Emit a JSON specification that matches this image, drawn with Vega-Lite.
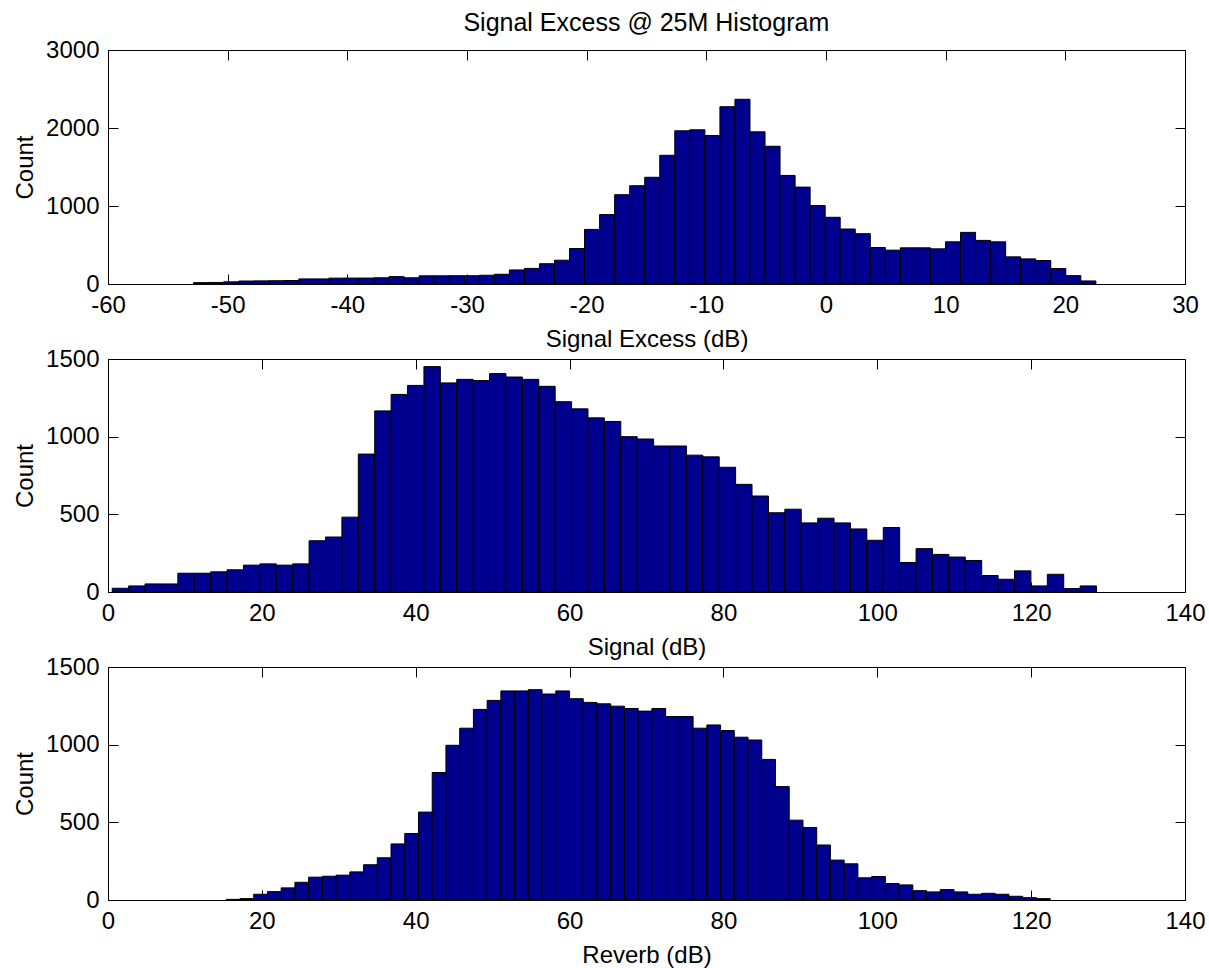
{
  "$schema": "https://vega.github.io/schema/vega-lite/v6.json",
  "padding": {"left": 13, "top": 10, "right": 5, "bottom": 5},
  "background": "white",
  "title": {"text": "Signal Excess @ 25M Histogram", "fontSize": 25, "fontWeight": "normal", "font": "Liberation Sans", "color": "#000000", "anchor": "middle", "offset": 2, "dx": 37},
  "datasets": {
    "excess": [
      {"bin_start": -52.85, "bin_end": -51.593, "count": 18},
      {"bin_start": -51.593, "bin_end": -50.337, "count": 20},
      {"bin_start": -50.337, "bin_end": -49.08, "count": 28},
      {"bin_start": -49.08, "bin_end": -47.823, "count": 38},
      {"bin_start": -47.823, "bin_end": -46.567, "count": 40},
      {"bin_start": -46.567, "bin_end": -45.31, "count": 42},
      {"bin_start": -45.31, "bin_end": -44.053, "count": 45},
      {"bin_start": -44.053, "bin_end": -42.796, "count": 65},
      {"bin_start": -42.796, "bin_end": -41.54, "count": 65},
      {"bin_start": -41.54, "bin_end": -40.283, "count": 75},
      {"bin_start": -40.283, "bin_end": -39.026, "count": 76},
      {"bin_start": -39.026, "bin_end": -37.77, "count": 76},
      {"bin_start": -37.77, "bin_end": -36.513, "count": 80},
      {"bin_start": -36.513, "bin_end": -35.256, "count": 95},
      {"bin_start": -35.256, "bin_end": -34.0, "count": 80},
      {"bin_start": -34.0, "bin_end": -32.743, "count": 105},
      {"bin_start": -32.743, "bin_end": -31.486, "count": 105},
      {"bin_start": -31.486, "bin_end": -30.229, "count": 106},
      {"bin_start": -30.229, "bin_end": -28.973, "count": 106},
      {"bin_start": -28.973, "bin_end": -27.716, "count": 112},
      {"bin_start": -27.716, "bin_end": -26.459, "count": 125},
      {"bin_start": -26.459, "bin_end": -25.203, "count": 180},
      {"bin_start": -25.203, "bin_end": -23.946, "count": 200},
      {"bin_start": -23.946, "bin_end": -22.689, "count": 260},
      {"bin_start": -22.689, "bin_end": -21.433, "count": 305},
      {"bin_start": -21.433, "bin_end": -20.176, "count": 455},
      {"bin_start": -20.176, "bin_end": -18.919, "count": 700},
      {"bin_start": -18.919, "bin_end": -17.662, "count": 890},
      {"bin_start": -17.662, "bin_end": -16.406, "count": 1145},
      {"bin_start": -16.406, "bin_end": -15.149, "count": 1260},
      {"bin_start": -15.149, "bin_end": -13.892, "count": 1368},
      {"bin_start": -13.892, "bin_end": -12.636, "count": 1650},
      {"bin_start": -12.636, "bin_end": -11.379, "count": 1964},
      {"bin_start": -11.379, "bin_end": -10.122, "count": 1977},
      {"bin_start": -10.122, "bin_end": -8.865, "count": 1904},
      {"bin_start": -8.865, "bin_end": -7.609, "count": 2273},
      {"bin_start": -7.609, "bin_end": -6.352, "count": 2368},
      {"bin_start": -6.352, "bin_end": -5.095, "count": 1951},
      {"bin_start": -5.095, "bin_end": -3.839, "count": 1766},
      {"bin_start": -3.839, "bin_end": -2.582, "count": 1392},
      {"bin_start": -2.582, "bin_end": -1.325, "count": 1242},
      {"bin_start": -1.325, "bin_end": -0.069, "count": 1006},
      {"bin_start": -0.069, "bin_end": 1.188, "count": 855},
      {"bin_start": 1.188, "bin_end": 2.445, "count": 705},
      {"bin_start": 2.445, "bin_end": 3.702, "count": 645},
      {"bin_start": 3.702, "bin_end": 4.958, "count": 468},
      {"bin_start": 4.958, "bin_end": 6.215, "count": 434},
      {"bin_start": 6.215, "bin_end": 7.472, "count": 464},
      {"bin_start": 7.472, "bin_end": 8.728, "count": 464},
      {"bin_start": 8.728, "bin_end": 9.985, "count": 451},
      {"bin_start": 9.985, "bin_end": 11.242, "count": 541},
      {"bin_start": 11.242, "bin_end": 12.498, "count": 662},
      {"bin_start": 12.498, "bin_end": 13.755, "count": 559},
      {"bin_start": 13.755, "bin_end": 15.012, "count": 541},
      {"bin_start": 15.012, "bin_end": 16.269, "count": 348},
      {"bin_start": 16.269, "bin_end": 17.525, "count": 322},
      {"bin_start": 17.525, "bin_end": 18.782, "count": 301},
      {"bin_start": 18.782, "bin_end": 20.039, "count": 198},
      {"bin_start": 20.039, "bin_end": 21.295, "count": 107},
      {"bin_start": 21.295, "bin_end": 22.552, "count": 39}
    ],
    "signal": [
      {"bin_start": 0.55, "bin_end": 2.683, "count": 24},
      {"bin_start": 2.683, "bin_end": 4.815, "count": 39},
      {"bin_start": 4.815, "bin_end": 6.948, "count": 52},
      {"bin_start": 6.948, "bin_end": 9.08, "count": 52},
      {"bin_start": 9.08, "bin_end": 11.213, "count": 121},
      {"bin_start": 11.213, "bin_end": 13.345, "count": 121},
      {"bin_start": 13.345, "bin_end": 15.478, "count": 130},
      {"bin_start": 15.478, "bin_end": 17.61, "count": 143},
      {"bin_start": 17.61, "bin_end": 19.743, "count": 173},
      {"bin_start": 19.743, "bin_end": 21.875, "count": 181},
      {"bin_start": 21.875, "bin_end": 24.008, "count": 173},
      {"bin_start": 24.008, "bin_end": 26.14, "count": 181},
      {"bin_start": 26.14, "bin_end": 28.273, "count": 330},
      {"bin_start": 28.273, "bin_end": 30.405, "count": 354},
      {"bin_start": 30.405, "bin_end": 32.538, "count": 482},
      {"bin_start": 32.538, "bin_end": 34.67, "count": 888},
      {"bin_start": 34.67, "bin_end": 36.803, "count": 1166},
      {"bin_start": 36.803, "bin_end": 38.935, "count": 1272},
      {"bin_start": 38.935, "bin_end": 41.068, "count": 1330},
      {"bin_start": 41.068, "bin_end": 43.2, "count": 1451},
      {"bin_start": 43.2, "bin_end": 45.333, "count": 1346},
      {"bin_start": 45.333, "bin_end": 47.465, "count": 1369},
      {"bin_start": 47.465, "bin_end": 49.598, "count": 1361},
      {"bin_start": 49.598, "bin_end": 51.73, "count": 1406},
      {"bin_start": 51.73, "bin_end": 53.863, "count": 1384},
      {"bin_start": 53.863, "bin_end": 55.995, "count": 1369},
      {"bin_start": 55.995, "bin_end": 58.128, "count": 1324},
      {"bin_start": 58.128, "bin_end": 60.26, "count": 1225},
      {"bin_start": 60.26, "bin_end": 62.393, "count": 1179},
      {"bin_start": 62.393, "bin_end": 64.525, "count": 1121},
      {"bin_start": 64.525, "bin_end": 66.658, "count": 1098},
      {"bin_start": 66.658, "bin_end": 68.79, "count": 1000},
      {"bin_start": 68.79, "bin_end": 70.923, "count": 985},
      {"bin_start": 70.923, "bin_end": 73.055, "count": 940},
      {"bin_start": 73.055, "bin_end": 75.188, "count": 940},
      {"bin_start": 75.188, "bin_end": 77.32, "count": 881},
      {"bin_start": 77.32, "bin_end": 79.453, "count": 870},
      {"bin_start": 79.453, "bin_end": 81.585, "count": 803},
      {"bin_start": 81.585, "bin_end": 83.718, "count": 693},
      {"bin_start": 83.718, "bin_end": 85.85, "count": 618},
      {"bin_start": 85.85, "bin_end": 87.983, "count": 510},
      {"bin_start": 87.983, "bin_end": 90.115, "count": 533},
      {"bin_start": 90.115, "bin_end": 92.248, "count": 445},
      {"bin_start": 92.248, "bin_end": 94.38, "count": 475},
      {"bin_start": 94.38, "bin_end": 96.513, "count": 445},
      {"bin_start": 96.513, "bin_end": 98.645, "count": 406},
      {"bin_start": 98.645, "bin_end": 100.778, "count": 333},
      {"bin_start": 100.778, "bin_end": 102.91, "count": 415},
      {"bin_start": 102.91, "bin_end": 105.043, "count": 190},
      {"bin_start": 105.043, "bin_end": 107.175, "count": 279},
      {"bin_start": 107.175, "bin_end": 109.308, "count": 242},
      {"bin_start": 109.308, "bin_end": 111.44, "count": 225},
      {"bin_start": 111.44, "bin_end": 113.573, "count": 203},
      {"bin_start": 113.573, "bin_end": 115.705, "count": 106},
      {"bin_start": 115.705, "bin_end": 117.838, "count": 82},
      {"bin_start": 117.838, "bin_end": 119.97, "count": 136},
      {"bin_start": 119.97, "bin_end": 122.103, "count": 39},
      {"bin_start": 122.103, "bin_end": 124.235, "count": 114},
      {"bin_start": 124.235, "bin_end": 126.368, "count": 22},
      {"bin_start": 126.368, "bin_end": 128.5, "count": 39}
    ],
    "reverb": [
      {"bin_start": 15.37, "bin_end": 17.155, "count": 4},
      {"bin_start": 17.155, "bin_end": 18.94, "count": 9},
      {"bin_start": 18.94, "bin_end": 20.725, "count": 37},
      {"bin_start": 20.725, "bin_end": 22.51, "count": 54},
      {"bin_start": 22.51, "bin_end": 24.295, "count": 78},
      {"bin_start": 24.295, "bin_end": 26.08, "count": 114},
      {"bin_start": 26.08, "bin_end": 27.865, "count": 147},
      {"bin_start": 27.865, "bin_end": 29.65, "count": 153},
      {"bin_start": 29.65, "bin_end": 31.435, "count": 160},
      {"bin_start": 31.435, "bin_end": 33.22, "count": 181},
      {"bin_start": 33.22, "bin_end": 35.005, "count": 227},
      {"bin_start": 35.005, "bin_end": 36.79, "count": 272},
      {"bin_start": 36.79, "bin_end": 38.575, "count": 361},
      {"bin_start": 38.575, "bin_end": 40.36, "count": 428},
      {"bin_start": 40.36, "bin_end": 42.145, "count": 566},
      {"bin_start": 42.145, "bin_end": 43.93, "count": 821},
      {"bin_start": 43.93, "bin_end": 45.715, "count": 996},
      {"bin_start": 45.715, "bin_end": 47.5, "count": 1106},
      {"bin_start": 47.5, "bin_end": 49.285, "count": 1227},
      {"bin_start": 49.285, "bin_end": 51.07, "count": 1285},
      {"bin_start": 51.07, "bin_end": 52.855, "count": 1346},
      {"bin_start": 52.855, "bin_end": 54.64, "count": 1346},
      {"bin_start": 54.64, "bin_end": 56.425, "count": 1354},
      {"bin_start": 56.425, "bin_end": 58.21, "count": 1326},
      {"bin_start": 58.21, "bin_end": 59.995, "count": 1346},
      {"bin_start": 59.995, "bin_end": 61.78, "count": 1296},
      {"bin_start": 61.78, "bin_end": 63.565, "count": 1272},
      {"bin_start": 63.565, "bin_end": 65.35, "count": 1263},
      {"bin_start": 65.35, "bin_end": 67.135, "count": 1248},
      {"bin_start": 67.135, "bin_end": 68.92, "count": 1233},
      {"bin_start": 68.92, "bin_end": 70.705, "count": 1216},
      {"bin_start": 70.705, "bin_end": 72.49, "count": 1233},
      {"bin_start": 72.49, "bin_end": 74.275, "count": 1181},
      {"bin_start": 74.275, "bin_end": 76.06, "count": 1181},
      {"bin_start": 76.06, "bin_end": 77.845, "count": 1106},
      {"bin_start": 77.845, "bin_end": 79.63, "count": 1127},
      {"bin_start": 79.63, "bin_end": 81.415, "count": 1091},
      {"bin_start": 81.415, "bin_end": 83.2, "count": 1048},
      {"bin_start": 83.2, "bin_end": 84.985, "count": 1030},
      {"bin_start": 84.985, "bin_end": 86.77, "count": 905},
      {"bin_start": 86.77, "bin_end": 88.555, "count": 730},
      {"bin_start": 88.555, "bin_end": 90.34, "count": 514},
      {"bin_start": 90.34, "bin_end": 92.125, "count": 467},
      {"bin_start": 92.125, "bin_end": 93.91, "count": 354},
      {"bin_start": 93.91, "bin_end": 95.695, "count": 257},
      {"bin_start": 95.695, "bin_end": 97.48, "count": 233},
      {"bin_start": 97.48, "bin_end": 99.265, "count": 143},
      {"bin_start": 99.265, "bin_end": 101.05, "count": 151},
      {"bin_start": 101.05, "bin_end": 102.835, "count": 106},
      {"bin_start": 102.835, "bin_end": 104.62, "count": 97},
      {"bin_start": 104.62, "bin_end": 106.405, "count": 60},
      {"bin_start": 106.405, "bin_end": 108.19, "count": 52},
      {"bin_start": 108.19, "bin_end": 109.975, "count": 67},
      {"bin_start": 109.975, "bin_end": 111.76, "count": 52},
      {"bin_start": 111.76, "bin_end": 113.545, "count": 37},
      {"bin_start": 113.545, "bin_end": 115.33, "count": 43},
      {"bin_start": 115.33, "bin_end": 117.115, "count": 37},
      {"bin_start": 117.115, "bin_end": 118.9, "count": 24},
      {"bin_start": 118.9, "bin_end": 120.685, "count": 15},
      {"bin_start": 120.685, "bin_end": 122.47, "count": 9}
    ]
  },
  "spacing": 75,
  "bounds": "flush",
  "vconcat": [
    {
      "width": 1077, "height": 234,
      "data": {"name": "excess"},
      "layer": [
        {
          "mark": {"type": "bar", "fill": "#00008F", "stroke": "#000000", "strokeWidth": 1},
          "encoding": {
            "x": {"field": "bin_start", "type": "quantitative", "scale": {"domain": [-60, 30], "nice": false, "zero": false},
                  "axis": {"orient": "bottom", "title": "Signal Excess (dB)", "values": [-60, -50, -40, -30, -20, -10, 0, 10, 20, 30], "labelExpr": "'' + datum.value"}},
            "x2": {"field": "bin_end"},
            "y": {"field": "count", "type": "quantitative", "scale": {"domain": [0, 3000], "nice": false},
                  "axis": {"orient": "left", "title": "Count", "values": [0, 1000, 2000, 3000], "labelExpr": "'' + datum.value"}},
            "y2": {"datum": 0}
          }
        },
        {
          "mark": {"type": "point", "opacity": 0},
          "encoding": {
            "x": {"field": "bin_start", "type": "quantitative", "axis": {"orient": "top", "labels": false, "domain": false, "title": null, "values": [-60, -50, -40, -30, -20, -10, 0, 10, 20, 30]}},
            "y": {"field": "count", "type": "quantitative", "axis": {"orient": "right", "labels": false, "domain": false, "title": null, "values": [0, 1000, 2000, 3000]}}
          }
        }
      ],
      "resolve": {"axis": {"x": "independent", "y": "independent"}}
    },
    {
      "width": 1077, "height": 233,
      "data": {"name": "signal"},
      "layer": [
        {
          "mark": {"type": "bar", "fill": "#00008F", "stroke": "#000000", "strokeWidth": 1},
          "encoding": {
            "x": {"field": "bin_start", "type": "quantitative", "scale": {"domain": [0, 140], "nice": false, "zero": false},
                  "axis": {"orient": "bottom", "title": "Signal (dB)", "values": [0, 20, 40, 60, 80, 100, 120, 140], "labelExpr": "'' + datum.value"}},
            "x2": {"field": "bin_end"},
            "y": {"field": "count", "type": "quantitative", "scale": {"domain": [0, 1500], "nice": false},
                  "axis": {"orient": "left", "title": "Count", "values": [0, 500, 1000, 1500], "labelExpr": "'' + datum.value"}},
            "y2": {"datum": 0}
          }
        },
        {
          "mark": {"type": "point", "opacity": 0},
          "encoding": {
            "x": {"field": "bin_start", "type": "quantitative", "axis": {"orient": "top", "labels": false, "domain": false, "title": null, "values": [0, 20, 40, 60, 80, 100, 120, 140]}},
            "y": {"field": "count", "type": "quantitative", "axis": {"orient": "right", "labels": false, "domain": false, "title": null, "values": [0, 500, 1000, 1500]}}
          }
        }
      ],
      "resolve": {"axis": {"x": "independent", "y": "independent"}}
    },
    {
      "width": 1077, "height": 233,
      "data": {"name": "reverb"},
      "layer": [
        {
          "mark": {"type": "bar", "fill": "#00008F", "stroke": "#000000", "strokeWidth": 1},
          "encoding": {
            "x": {"field": "bin_start", "type": "quantitative", "scale": {"domain": [0, 140], "nice": false, "zero": false},
                  "axis": {"orient": "bottom", "title": "Reverb (dB)", "values": [0, 20, 40, 60, 80, 100, 120, 140], "labelExpr": "'' + datum.value"}},
            "x2": {"field": "bin_end"},
            "y": {"field": "count", "type": "quantitative", "scale": {"domain": [0, 1500], "nice": false},
                  "axis": {"orient": "left", "title": "Count", "values": [0, 500, 1000, 1500], "labelExpr": "'' + datum.value"}},
            "y2": {"datum": 0}
          }
        },
        {
          "mark": {"type": "point", "opacity": 0},
          "encoding": {
            "x": {"field": "bin_start", "type": "quantitative", "axis": {"orient": "top", "labels": false, "domain": false, "title": null, "values": [0, 20, 40, 60, 80, 100, 120, 140]}},
            "y": {"field": "count", "type": "quantitative", "axis": {"orient": "right", "labels": false, "domain": false, "title": null, "values": [0, 500, 1000, 1500]}}
          }
        }
      ],
      "resolve": {"axis": {"x": "independent", "y": "independent"}}
    }
  ],
  "config": {
    "font": "Liberation Sans",
    "view": {"stroke": "#000000", "strokeWidth": 1},
    "axis": {
      "grid": false,
      "domainColor": "#000000",
      "domainWidth": 1,
      "tickColor": "#000000",
      "tickWidth": 1,
      "tickSize": -10,
      "labelColor": "#000000",
      "labelFont": "Liberation Sans",
      "labelFontSize": 24,
      "labelPadding": 19,
      "labelFlush": false,
      "labelOverlap": false,
      "titleColor": "#000000",
      "titleFont": "Liberation Sans",
      "titleFontSize": 24,
      "titleFontWeight": "normal"
    },
    "axisX": {"titlePadding": 10},
    "axisY": {"titlePadding": 8}
  }
}
